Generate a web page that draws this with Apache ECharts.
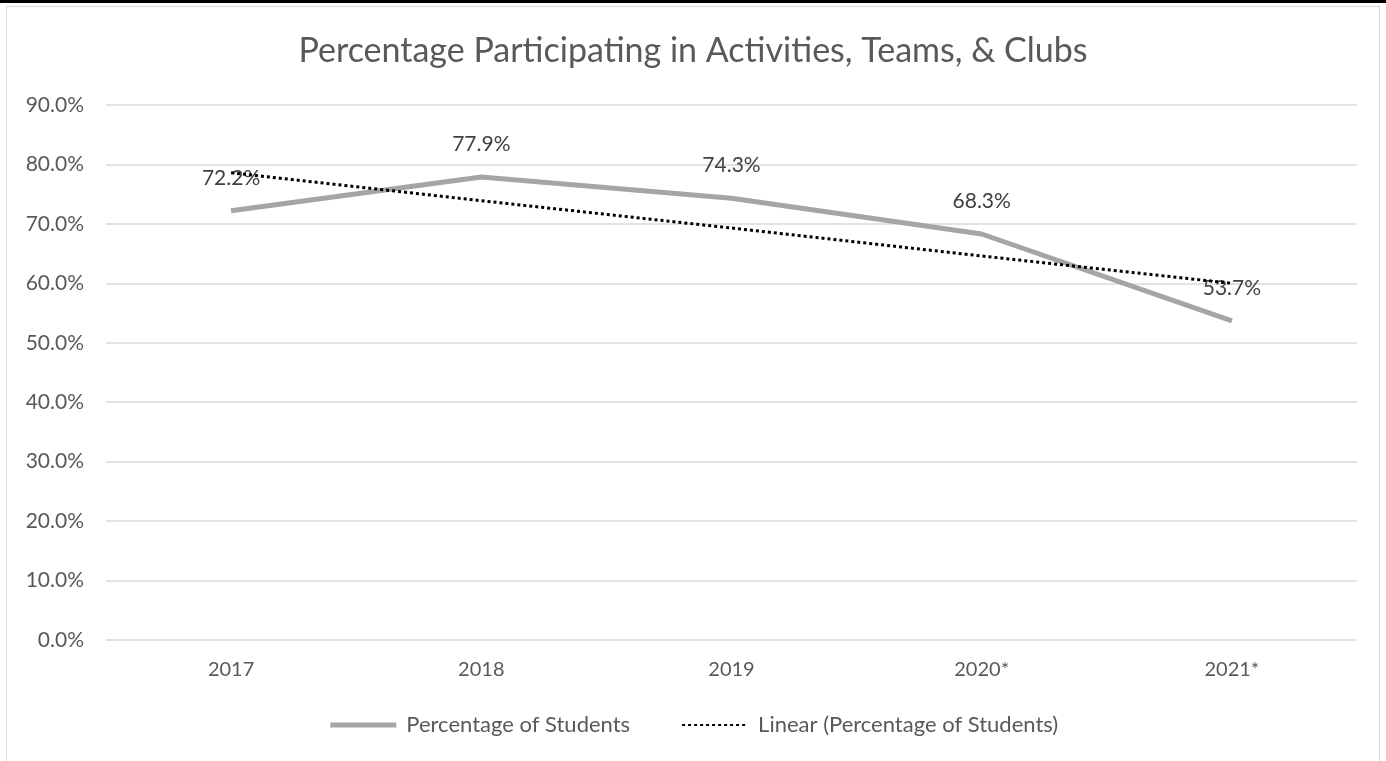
<!DOCTYPE html>
<html>
<head>
<meta charset="utf-8">
<script src="https://cdn.jsdelivr.net/npm/echarts@6/dist/echarts.min.js"></script>
<style>
    html, body { margin: 0; padding: 0; background: #fff; }
    #topbar { position: absolute; left: 0; top: 0; width: 1386px; height: 3px; background: #000; }
    #frame { position: absolute; left: 6px; top: 6px; width: 1374px; height: 760px; border: 1px solid #d9d9d9; border-bottom: none; box-sizing: border-box; }
    #main { position: absolute; left: 0; top: 0; width: 1386px; height: 761px; }
</style>
</head>
<body>
<div id="topbar"></div>
<div id="frame"></div>
<div id="main"></div>
<script>
    var years = ['2017', '2018', '2019', '2020*', '2021*'];
    var students = [72.2, 77.9, 74.3, 68.3, 53.7];
    // trendline
    var trend = [78.6, 73.9, 69.3, 64.6, 60.0];
    var yTicks = [0, 10, 20, 30, 40, 50, 60, 70, 80, 90];

    var font = 'Lato, "Liberation Sans", sans-serif';
    var myChart = echarts.init(document.getElementById('main'));

    var option = {
        animation: false,
        textStyle: { fontFamily: font },
        title: {
            text: 'Percentage Participating in Activities, Teams, & Clubs',
            left: 'center',
            top: 29,
            textStyle: { fontFamily: font, fontSize: 34, fontWeight: 'normal', color: '#595959' }
        },
        grid: { left: 106, right: 29, top: 105, bottom: 121 },
        legend: {
            bottom: 20,
            left: 'center',
            itemWidth: 66,
            itemHeight: 10,
            itemGap: 51,
            itemStyle: { opacity: 0 },
            textStyle: { fontFamily: font, fontSize: 22, color: '#595959', padding: [0, 0, 0, 5] },
            data: [
                { name: 'Percentage of Students', lineStyle: { width: 5, color: '#a5a5a5' } },
                { name: 'Linear (Percentage of Students)' }
            ]
        },
        xAxis: {
            type: 'category',
            data: years,
            boundaryGap: true,
            axisLine: { show: false },
            axisTick: { show: false },
            axisLabel: { fontFamily: font, fontSize: 20, color: '#595959', margin: 20 }
        },
        yAxis: {
            type: 'value',
            min: yTicks[0],
            max: yTicks[yTicks.length - 1],
            interval: 10,
            axisLine: { show: false },
            axisTick: { show: false },
            axisLabel: {
                fontFamily: font, fontSize: 21, color: '#595959', margin: 22,
                formatter: function (v) { return v.toFixed(1) + '%'; }
            },
            splitLine: { lineStyle: { color: '#d9d9d9', width: 1.5 } }
        },
        series: [
            {
                name: 'Percentage of Students',
                type: 'line',
                data: students,
                symbol: 'circle',
                symbolSize: 0.5,
                showSymbol: true,
                z: 2,
                lineStyle: { color: '#a5a5a5', width: 5 },
                itemStyle: { color: '#a5a5a5' },
                label: {
                    show: true,
                    position: 'top',
                    distance: 22,
                    fontFamily: font,
                    fontSize: 21,
                    color: '#404040',
                    formatter: function (p) { return p.value.toFixed(1) + '%'; }
                }
            },
            {
                name: 'Linear (Percentage of Students)',
                type: 'line',
                data: trend,
                symbol: 'none',
                z: 3,
                lineStyle: { color: '#000', width: 3, type: [3, 3] },
                itemStyle: { color: '#000' }
            }
        ]
    };
    myChart.setOption(option);
</script>
</body>
</html>
